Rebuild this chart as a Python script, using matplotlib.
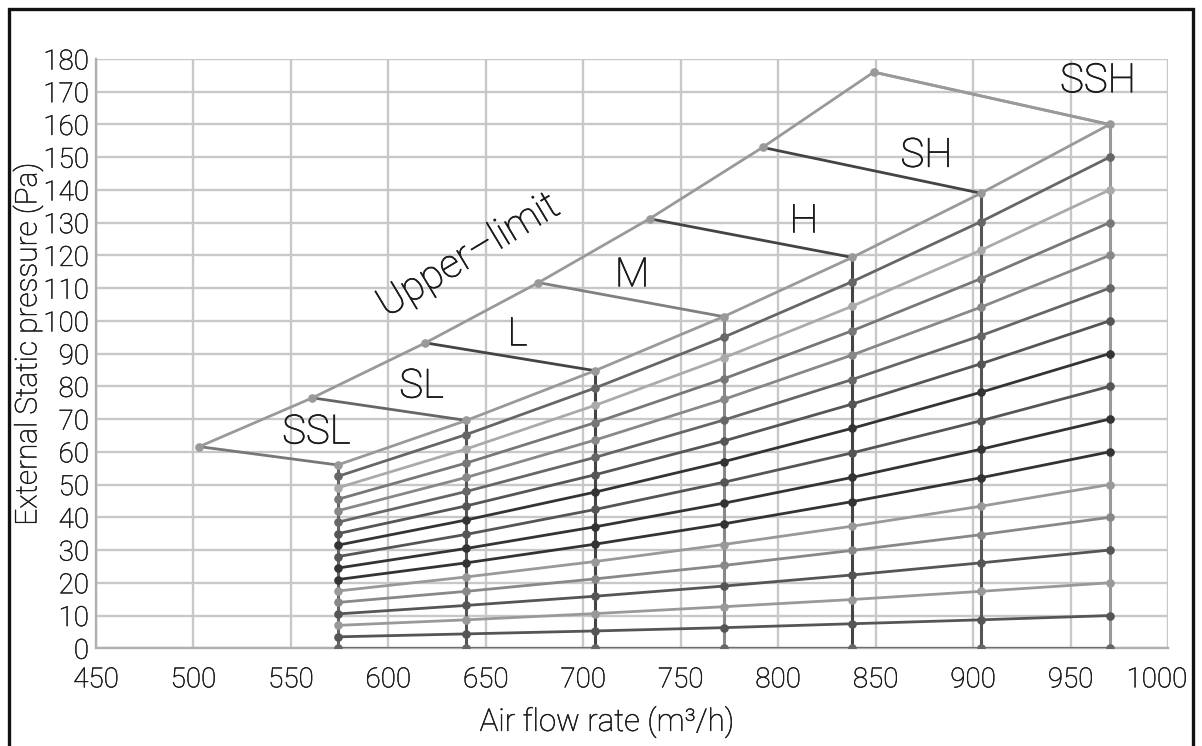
import matplotlib
matplotlib.use("Agg")
import matplotlib.pyplot as plt
import matplotlib.patheffects as pe
from matplotlib.patches import Rectangle
from matplotlib.transforms import ScaledTranslation

# ---------------- data ----------------
x_ticks = [450, 500, 550, 600, 650, 700, 750, 800, 850, 900, 950, 1000]
y_ticks = [0, 10, 20, 30, 40, 50, 60, 70, 80, 90, 100, 110, 120, 130, 140, 150, 160, 170, 180]

flow_points = [574, 640, 706, 772, 838, 904, 970]

curve_0 = [0, 0, 0, 0, 0, 0, 0]
curve_10 = [3.5, 4.4, 5.3, 6.3, 7.5, 8.7, 10]
curve_20 = [7.0, 8.7, 10.6, 12.7, 14.9, 17.4, 20]
curve_30 = [10.5, 13.1, 15.9, 19.0, 22.4, 26.1, 30]
curve_40 = [14.0, 17.4, 21.2, 25.3, 29.9, 34.7, 40]
curve_50 = [17.5, 21.8, 26.5, 31.7, 37.3, 43.4, 50]
curve_60 = [21.0, 26.1, 31.8, 38.0, 44.8, 52.1, 60]
curve_70 = [24.5, 30.5, 37.1, 44.3, 52.2, 60.8, 70]
curve_80 = [28.0, 34.8, 42.4, 50.7, 59.7, 69.5, 80]
curve_90 = [31.5, 39.2, 47.7, 57.0, 67.2, 78.2, 90]
curve_100 = [35.0, 43.5, 53.0, 63.3, 74.6, 86.9, 100]
curve_110 = [38.5, 47.9, 58.3, 69.7, 82.1, 95.5, 110]
curve_120 = [42.0, 52.2, 63.6, 76.0, 89.6, 104.2, 120]
curve_130 = [45.5, 56.6, 68.9, 82.3, 97.0, 112.9, 130]
curve_140 = [49.0, 60.9, 74.2, 88.7, 104.5, 121.6, 140]
curve_150 = [52.5, 65.3, 79.5, 95.0, 112.0, 130.3, 150]
curve_160 = [56.0, 69.6, 84.8, 101.3, 119.4, 139.0, 160]

upper_flow = [503, 561, 619, 677, 734, 792, 849]
upper_pressure = [61.6, 76.5, 93.3, 111.7, 131.2, 153.0, 176.0]

speed_names = ["SSL", "SL", "L", "M", "H", "SH", "SSH"]
speed_label_x = [563, 617, 666, 725, 813, 876, 964]
speed_label_y = [66, 80, 96, 114, 130.5, 150.5, 173.3]

# ---------------- styles ----------------
curves = [curve_0, curve_10, curve_20, curve_30, curve_40, curve_50, curve_60,
          curve_70, curve_80, curve_90, curve_100, curve_110, curve_120,
          curve_130, curve_140, curve_150, curve_160]
curve_colors = ["#666666", "#555555", "#999999", "#555555", "#888888", "#999999",
                "#333333", "#333333", "#555555", "#333333", "#555555", "#666666",
                "#888888", "#777777", "#aaaaaa", "#666666", "#999999"]
speed_line_colors = ["#777777", "#666666", "#444444", "#808080", "#444444", "#444444", "#999999"]
column_colors = ["#666666", "#555555", "#444444", "#888888", "#444444", "#555555", "#999999"]

plt.rcParams['font.family'] = ['Roboto', 'DejaVu Sans']
plt.rcParams['font.weight'] = 'light'

TXT = "#1a1a1a"
def thick(lw):
    return [pe.withStroke(linewidth=lw, foreground=TXT)]

W, H = 1202, 746
fig = plt.figure(figsize=(W / 100, H / 100), dpi=100)
ax = fig.add_axes([96 / W, 1 - 648.3 / H, (1168 - 96) / W, (648.3 - 59) / H])

ax.set_xlim(450, 1000)
ax.set_ylim(0, 180)
ax.set_xticks(x_ticks)
ax.set_yticks(y_ticks)
ax.grid(True, color="#c8c8c8", lw=1.7, zorder=0)
ax.set_axisbelow(True)
for s in ["top", "right"]:
    ax.spines[s].set_visible(False)
for s in ["left", "bottom"]:
    ax.spines[s].set_color("#b0b0b0")
    ax.spines[s].set_linewidth(1.7)
ax.tick_params(axis="both", length=0, labelsize=20, colors=TXT)
ax.tick_params(axis="x", pad=13)
ax.tick_params(axis="y", pad=5)
for lab in ax.get_xticklabels() + ax.get_yticklabels():
    lab.set_path_effects(thick(0.35))
last = ax.get_xticklabels()[-1]
last.set_transform(last.get_transform() + ScaledTranslation(-0.11, 0, fig.dpi_scale_trans))

# columns (speed vertical lines) and speed lines from upper limit
for i in range(len(flow_points)):
    ax.plot([flow_points[i], flow_points[i]], [0, curve_160[i]],
            color=column_colors[i], lw=2.2, zorder=2, solid_capstyle="butt")
    ax.plot([upper_flow[i], flow_points[i]], [upper_pressure[i], curve_160[i]],
            color=speed_line_colors[i], lw=2.0, zorder=2)

# fan curves
for vals, col in zip(curves, curve_colors):
    ax.plot(flow_points, vals, color=col, lw=2.0, marker="o", ms=5.2,
            mec=col, mfc=col, zorder=3)

# upper limit line
ax.plot(upper_flow + [flow_points[-1]], upper_pressure + [curve_160[-1]],
        color="#999999", lw=2.0, zorder=2)
ax.plot(upper_flow, upper_pressure, ls="none", marker="o", ms=5.2,
        color="#999999", zorder=4)

for name, lx, ly in zip(speed_names, speed_label_x, speed_label_y):
    ax.text(lx, ly, name, fontsize=29, ha="center", va="center",
            color=TXT, zorder=5, path_effects=thick(0.5))
ax.text(641, 120, "Upper\u2013limit", fontsize=29, ha="center", va="center",
        rotation=31, color=TXT, rotation_mode="anchor", zorder=5,
        path_effects=thick(0.5))

fig.text(28 / W, 1 - 344 / H, "External Static pressure (Pa)", rotation=90,
         fontsize=21.5, ha="center", va="center", color=TXT,
         path_effects=thick(0.35))
fig.text(607 / W, 1 - 722 / H, "Air flow rate (m\u00b3/h)",
         fontsize=22.5, ha="center", va="center", color=TXT,
         path_effects=thick(0.35))

fig.add_artist(Rectangle((9 / W, -0.02), (1193 - 9) / W, 1.02 - 9 / H,
                         transform=fig.transFigure, fill=False,
                         edgecolor="#111111", lw=2.4))

fig.savefig("out.png", dpi=100)
